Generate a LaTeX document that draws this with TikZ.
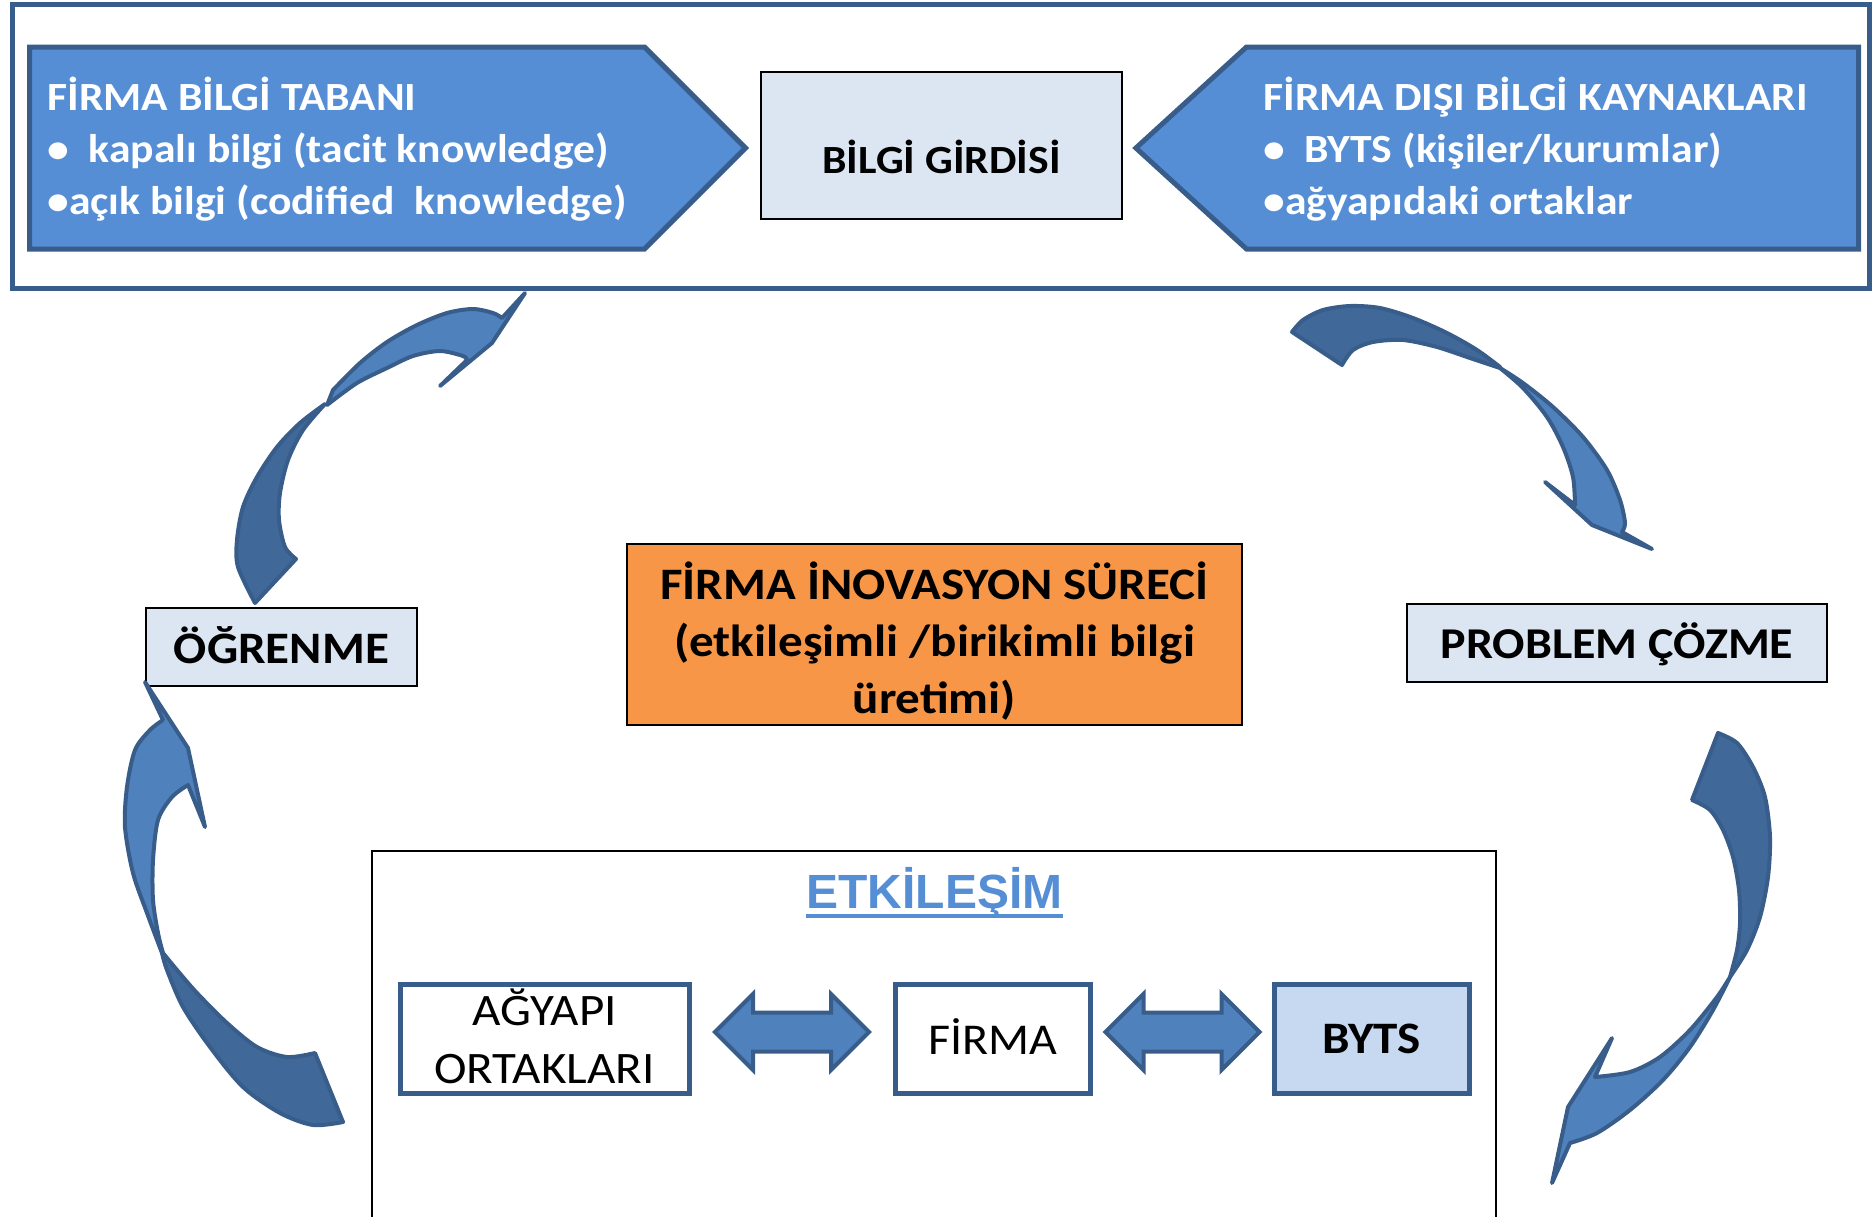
\documentclass[tikz,border=0pt]{standalone}
\usepackage{fontspec}
\setmainfont{Carlito}[FakeStretch=1.09]
\newfontfamily\arialfont{Liberation Sans}
\usetikzlibrary{shapes.symbols,shapes.arrows}
\definecolor{edgeblue}{HTML}{385D8A}
\definecolor{bandblue}{HTML}{558ED5}
\definecolor{paleblue}{HTML}{DCE6F2}
\definecolor{bytsblue}{HTML}{C6D9F1}
\definecolor{arrowblue}{HTML}{4F81BD}
\definecolor{shadeblue}{HTML}{406898}
\definecolor{innovorange}{HTML}{F79646}

\begin{document}
\begin{tikzpicture}[x=1pt, y=-1pt,
    infobox/.style={rectangle, draw=black, line width=2, fill=paleblue, inner sep=0, minimum height=78, font=\fontsize{45}{57.4}\selectfont\bfseries},
    sourcebox/.style={signal, draw=edgeblue, line width=5, fill=bandblue, text=white, inner ysep=0, minimum height=202, text height=0, text depth=76, font=\fontsize{40}{52}\selectfont\bfseries},
    actorbox/.style={rectangle, draw=edgeblue, line width=5, fill=white, inner sep=0, minimum width=195, minimum height=109, font=\fontsize{45}{58}\selectfont},
    linkarrow/.style={double arrow, draw=edgeblue, line width=4, fill=arrowblue, inner sep=17.5, minimum height=154, double arrow head extend=18.5},
    ribbon/.style={draw=edgeblue, line width=4, line join=round, fill=#1}]

      \useasboundingbox (0, 0) rectangle (1874, 1216);
      \draw [edgeblue, line width=5] (12, 4) rectangle (1869, 288);

      \node (internal) [sourcebox, signal to=east, signal pointer angle=90, inner xsep=18, anchor=west] at (27, 148) {
        \begin{tabular}[t]{@{}p{579pt}@{}}
          FİRMA BİLGİ TABANI \\
          •\ \ kapalı bilgi (tacit knowledge) \\
          •açık bilgi (codified\ \ knowledge)
        \end{tabular}
      };
      \node (external) [sourcebox, signal to=west, signal pointer angle=84.8, inner xsep=17, anchor=east] at (1861, 148) {
        \begin{tabular}[t]{@{}p{578pt}@{}}
          FİRMA DIŞI BİLGİ KAYNAKLARI \\
          •\ \ BYTS (kişiler/kurumlar) \\
          •ağyapıdaki ortaklar
        \end{tabular}
      };
      \node (input) [infobox, minimum width=361, minimum height=147, text height=55, text depth=0, font=\fontsize{40}{48}\selectfont\bfseries] at (941.5, 145.5) {BİLGİ GİRDİSİ};

      \node (learning) [infobox, minimum width=271, text height=32, text depth=0] at (281.5, 647) {ÖĞRENME};
      \node (solving) [infobox, minimum width=420, text height=30, text depth=0, font=\fontsize{44}{52}\selectfont\bfseries] at (1617, 643) {PROBLEM ÇÖZME};
      \node (process) [infobox, fill=innovorange, minimum width=615, minimum height=181, text height=0, text depth=71] at (934.5, 634.5) {
        \begin{tabular}[t]{@{}c@{}}
          FİRMA İNOVASYON SÜRECİ \\
          (etkileşimli /birikimli bilgi \\
          üretimi)
        \end{tabular}
      };

      \draw [line width=2] (372, 1230) |- (1496, 851) -- (1496, 1230);
      \node (interaction) [inner sep=0, anchor=base, text=bandblue, font=\fontsize{48}{58}\selectfont\arialfont\bfseries] at (934.5, 908) {ETKİLEŞİM};
      \draw [bandblue, line width=4] ([yshift=-8]interaction.base west) -- ([yshift=-8]interaction.base east);

      \node (partners) [actorbox, minimum width=289, text height=0, text depth=27] at (544.5, 1038.5) {
        \begin{tabular}[t]{@{}c@{}}
          AĞYAPI \\
          ORTAKLARI
        \end{tabular}
      };
      \node (firm) [actorbox, text height=31, text depth=0, font=\fontsize{44}{58}\selectfont] at (992.5, 1038.5) {FİRMA};
      \node (byts) [actorbox, fill=bytsblue, text height=29, text depth=0, font=\fontsize{45}{52}\selectfont\bfseries] at (1371.5, 1038.5) {BYTS};
      \node (linkleft) [linkarrow] at (792, 1032) {};
      \node (linkright) [linkarrow] at (1182.5, 1032) {};

      \draw [ribbon=arrowblue] plot [smooth] coordinates {(327, 405) (357, 383) (387, 368) (413, 356) (440, 351) (463, 356) (467, 360)} -- (440, 386) -- (492, 343) -- (525, 293) -- (502, 318) -- plot [smooth] coordinates {(502, 318) (493, 313) (473, 309) (447, 313) (417, 325) (387, 342) (360, 363) (333, 390)} -- cycle;
      \draw [ribbon=shadeblue] plot [smooth] coordinates {(255, 603) (238, 567) (237, 540) (243, 507) (257, 477) (277, 447) (300, 423) (325, 404)} -- plot [smooth] coordinates {(325, 404) (303, 430) (288, 460) (280, 493) (279, 520) (285, 547) (296, 559)} -- cycle;

      \draw [ribbon=shadeblue] plot [smooth] coordinates {(1292, 332) (1303, 320) (1323, 310) (1350, 306) (1380, 308) (1413, 318) (1447, 333) (1477, 350) (1500, 367)} -- plot [smooth] coordinates {(1500, 368) (1470, 358) (1437, 347) (1403, 340) (1373, 342) (1353, 350) (1342, 365)} -- cycle;
      \draw [ribbon=arrowblue] plot [smooth] coordinates {(1500, 368) (1523, 383) (1553, 407) (1583, 437) (1607, 470) (1620, 500) (1625, 523) (1622, 532)} -- (1652, 549) -- (1592, 525) -- (1545, 482) -- (1575, 505) -- plot [smooth] coordinates {(1575, 505) (1573, 477) (1563, 447) (1547, 417) (1523, 388) (1500, 368)} -- cycle;

      \draw [ribbon=shadeblue] plot [smooth] coordinates {(343, 1122) (313, 1125) (280, 1113) (243, 1087) (210, 1047) (183, 1007) (167, 970) (162, 953)} -- plot [smooth] coordinates {(163, 953) (177, 970) (197, 993) (227, 1023) (257, 1047) (287, 1057) (315, 1053)} -- cycle;
      \draw [ribbon=arrowblue] plot [smooth] coordinates {(162, 953) (147, 913) (133, 873) (125, 827) (127, 787) (135, 750) (150, 730) (163, 720)} -- (145, 682) -- (188, 748) -- (205, 827) -- (188, 785) -- plot [smooth] coordinates {(188, 785) (172, 797) (158, 820) (153, 860) (153, 900) (158, 933) (163, 953)} -- cycle;

      \draw [ribbon=shadeblue] plot [smooth] coordinates {(1718, 733) (1737, 743) (1753, 767) (1765, 797) (1770, 837) (1768, 877) (1760, 917) (1747, 950) (1730, 977)} -- plot [smooth] coordinates {(1730, 977) (1737, 950) (1740, 923) (1739, 890) (1733, 857) (1723, 830) (1710, 810) (1692, 800)} -- cycle;
      \draw [ribbon=arrowblue] plot [smooth] coordinates {(1730, 977) (1713, 1010) (1690, 1047) (1663, 1080) (1630, 1110) (1597, 1133) (1570, 1143)} -- (1552, 1183) -- (1568, 1107) -- (1612, 1038) -- (1595, 1077) -- plot [smooth] coordinates {(1595, 1077) (1630, 1072) (1660, 1057) (1690, 1030) (1717, 997) (1730, 977)} -- cycle;
    \end{tikzpicture}
\end{document}
